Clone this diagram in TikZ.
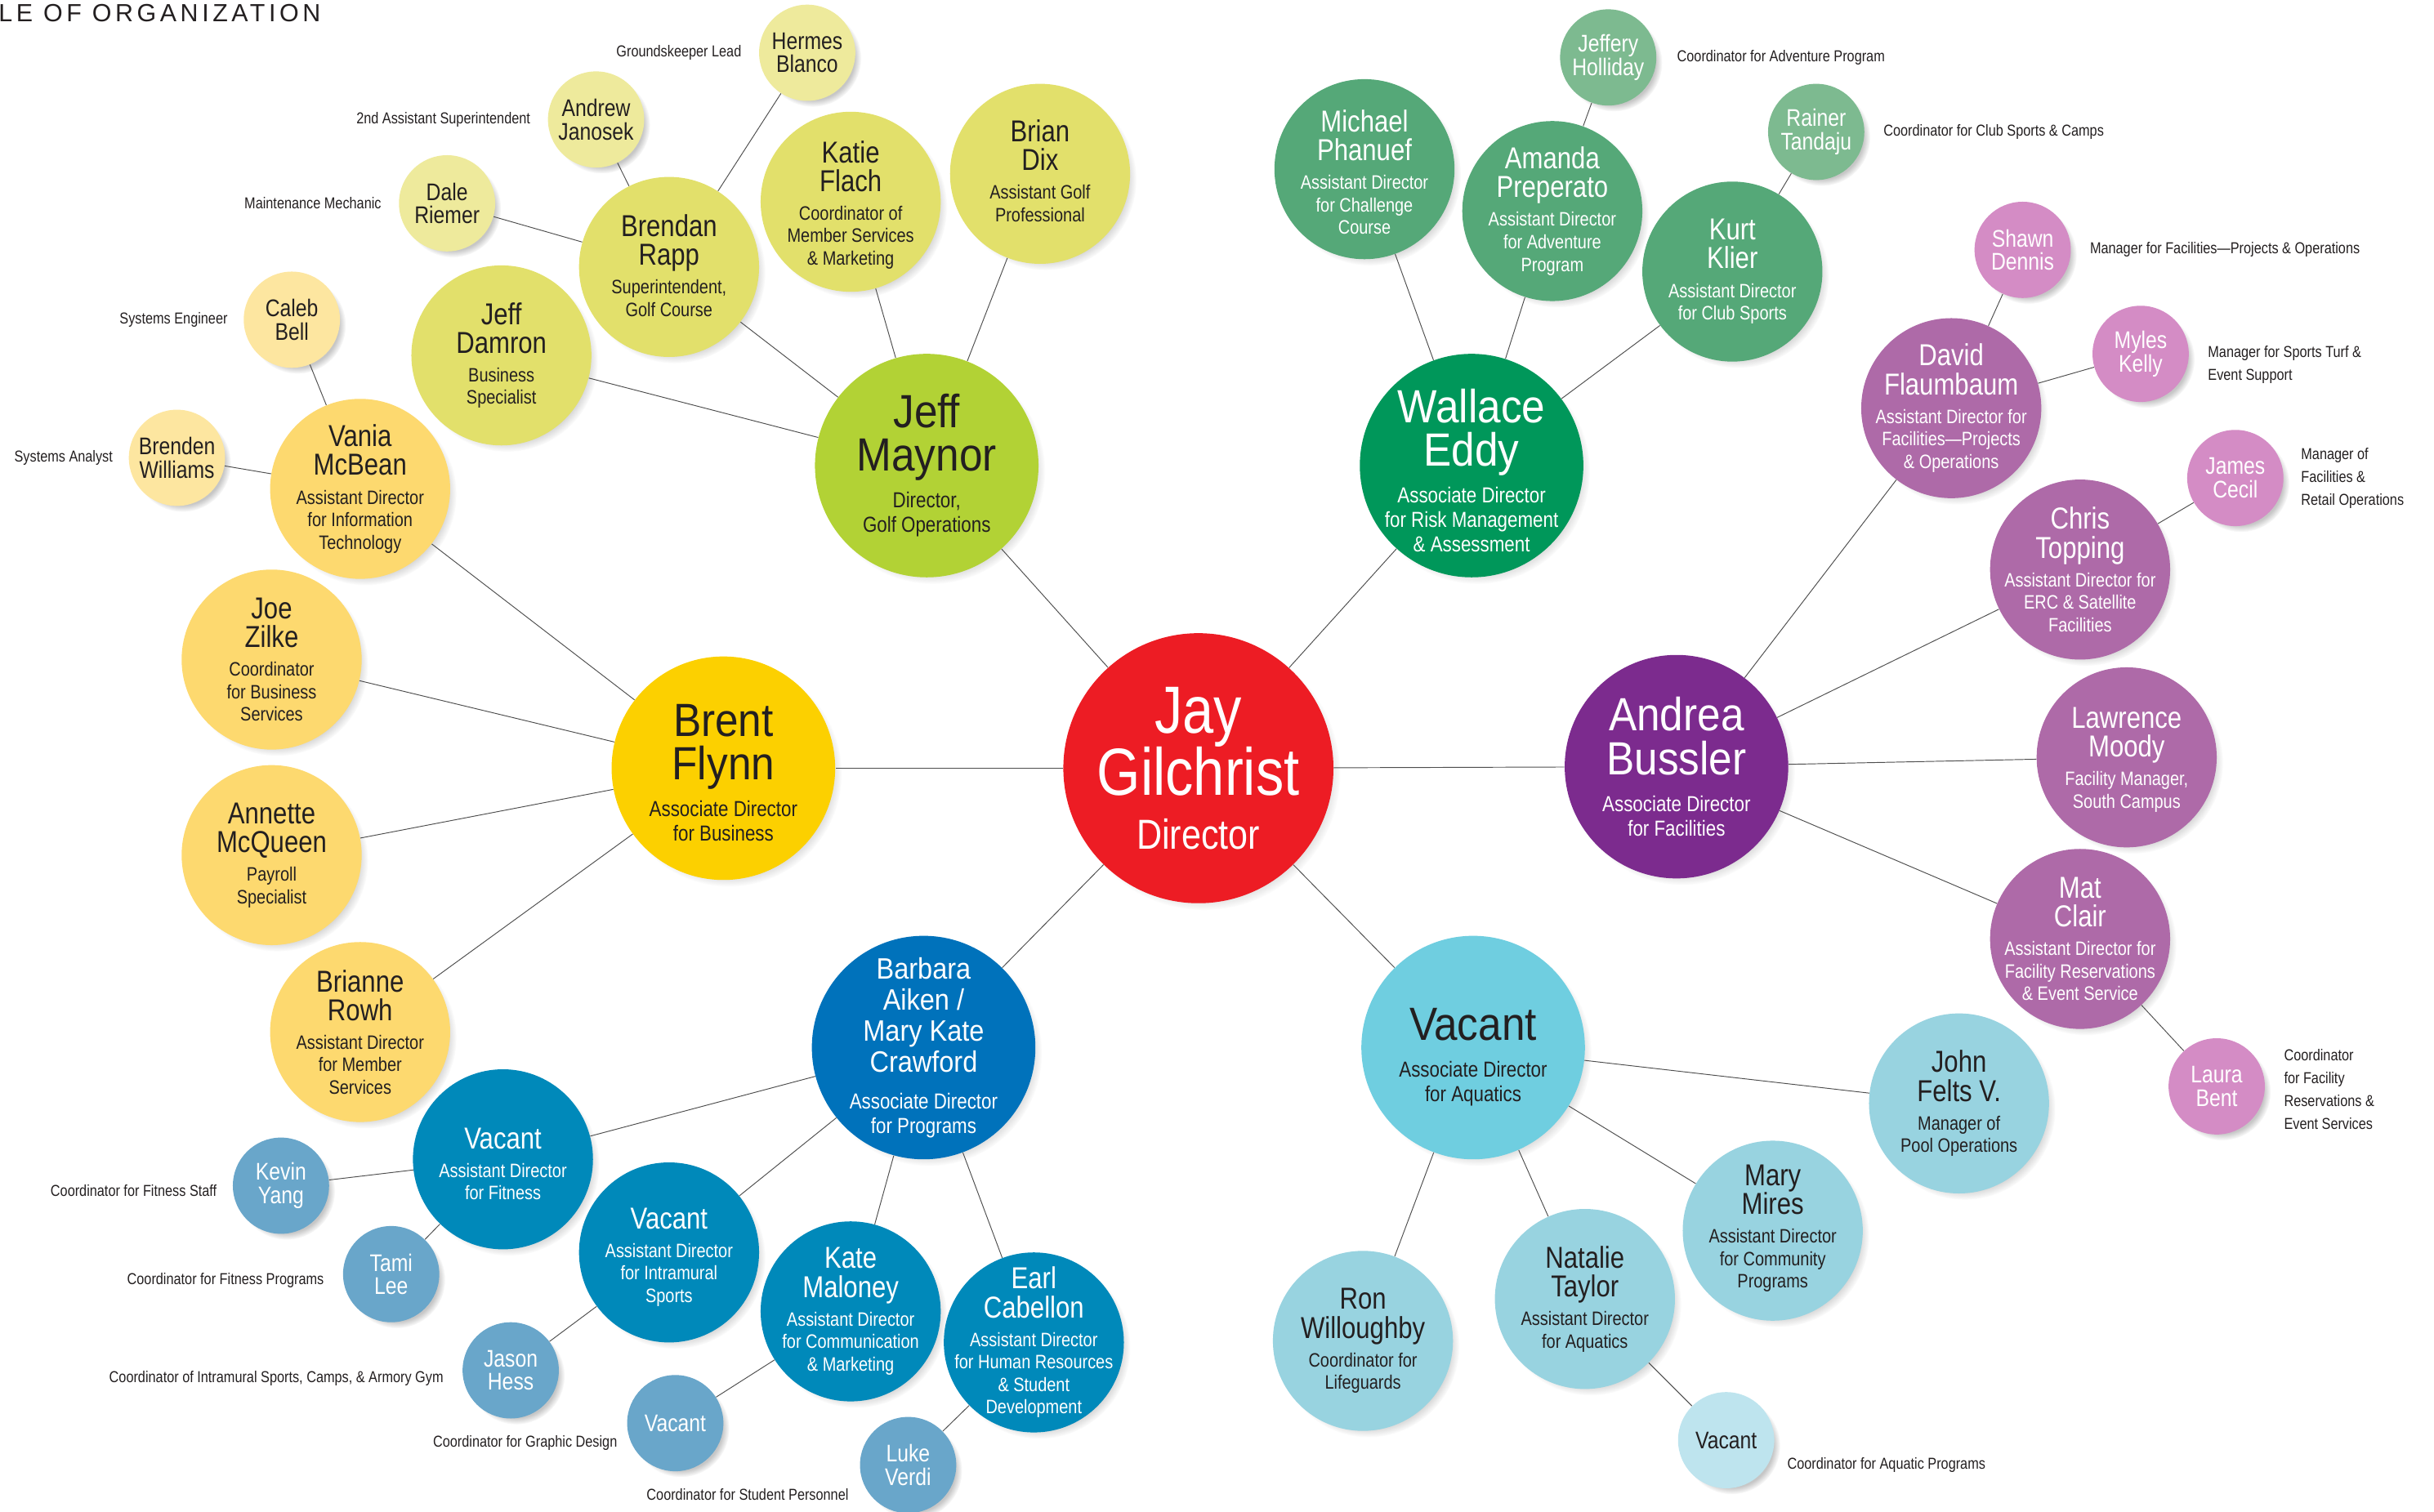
\documentclass[tikz,border=0pt]{standalone}
\usepackage{fontspec}
\setmainfont[FakeStretch=0.84]{Liberation Sans}
\newfontfamily\namefont[FakeStretch=0.9]{Liberation Sans}
\newfontfamily\headfont[LetterSpace=15]{Liberation Sans}
\usetikzlibrary{shadows, positioning}

% colours
\definecolor{ink}{HTML}{231F20}
\definecolor{wire}{HTML}{4D4D4D}
\definecolor{jayred}{HTML}{ED1C24}
\definecolor{busyellow}{HTML}{FCD000}
\definecolor{busmid}{HTML}{FDD96F}
\definecolor{buspale}{HTML}{FDE6A0}
\definecolor{golflime}{HTML}{B2D235}
\definecolor{golfmid}{HTML}{E2E06B}
\definecolor{golfpale}{HTML}{EEEA9C}
\definecolor{riskgreen}{HTML}{00975A}
\definecolor{riskmid}{HTML}{55A878}
\definecolor{riskpale}{HTML}{7DBA90}
\definecolor{facpurple}{HTML}{7C2B8E}
\definecolor{facmid}{HTML}{AE6AA8}
\definecolor{facpale}{HTML}{D48CC5}
\definecolor{aqblue}{HTML}{6FCEE0}
\definecolor{aqmid}{HTML}{98D3E0}
\definecolor{aqpale}{HTML}{BEE4EE}
\definecolor{progblue}{HTML}{0072BB}
\definecolor{progmid}{HTML}{0089BA}
\definecolor{progpale}{HTML}{69A6CA}

% text inside the circles (optional arg raises the block)
\newcommand{\inside}[3]{\makebox[0pt]{\raisebox{\dimexpr#1-2.5pt\relax}[0pt][0pt]{\parbox{#2}{\centering\lineskiplimit=-100pt #3\par}}}}
\newcommand{\cardA}[3][0pt]{\inside{#1}{170pt}{\fontsize{43}{40}\selectfont #2\par\vspace{7pt}\fontsize{27}{28}\selectfont #3}}
\newcommand{\cardB}[3][0pt]{\inside{#1}{160pt}{\namefont\fontsize{30}{28}\selectfont #2\par\vspace{7.9pt}\rmfamily\fontsize{14}{15.8}\selectfont #3}}
\newcommand{\cardC}[3][0pt]{\inside{#1}{130pt}{\fontsize{19.5}{18.5}\selectfont #2\par\vspace{4pt}\fontsize{12.5}{14.5}\selectfont #3}}
\newcommand{\cardD}[2][0pt]{\inside{#1}{70pt}{\fontsize{15.5}{15}\selectfont #2}}

\tikzset{
    person/.style={circle, inner sep=0pt, circular drop shadow={shadow xshift=3.5pt, shadow yshift=-3.5pt, shadow scale=1.01, opacity=0.45}},
    chief/.style={person, minimum size=174pt, fill=jayred, text=white},
    assoc/.style={person, minimum size=144pt},
    asst/.style={person, minimum size=116pt},
    staff/.style={person, minimum size=62pt},
    darktext/.style={text=ink},
    role/.style={font=\fontsize{10.2}{14.7}\selectfont, text=ink, inner sep=0pt, align=left},
    link/.style={draw=wire, line width=0.5pt},
}

\begin{document}
\begin{tikzpicture}[x=1pt, y=-1pt]
    \useasboundingbox (0,0) rectangle (1568,974);

    % Heading
    \node (title) at (-1,14) [anchor=base west, inner sep=0pt, text=ink, font=\headfont\fontsize{16}{16}\selectfont] {LE OF ORGANIZATION};

    % Director
    \node (jay) at (772,495) [chief] {\cardA{Jay\\Gilchrist}{Director}};

    % Associate directors
    \node (brent) at (466,495) [assoc, fill=busyellow, darktext] {\cardB[-3pt]{Brent\\Flynn}{Associate Director\\for Business}};
    \node (maynor) at (597,300) [assoc, fill=golflime, darktext] {\cardB{Jeff\\Maynor}{Director,\\Golf Operations}};
    \node (wallace) at (948,300) [assoc, fill=riskgreen, text=white] {\cardB[-3pt]{Wallace\\Eddy}{Associate Director\\for Risk Management\\\& Assessment}};
    \node (andrea) at (1080,494) [assoc, fill=facpurple, text=white] {\cardB{Andrea\\Bussler}{Associate Director\\for Facilities}};
    \node (aquatics) at (949,675) [assoc, fill=aqblue, darktext] {\cardB[-6pt]{Vacant}{Associate Director\\for Aquatics}};
    \node (barbara) at (595,675) [assoc, fill=progblue, text=white] {\cardB{\fontsize{19}{20}\selectfont Barbara\\Aiken /\\Mary Kate\\Crawford}{Associate Director\\for Programs}};

    % Business
    \node (vania) at (232,315) [asst, fill=busmid, darktext] {\cardC{Vania\\McBean}{Assistant Director\\for Information\\Technology}};
    \node (zilke) at (175,425) [asst, fill=busmid, darktext] {\cardC{Joe\\Zilke}{Coordinator\\for Business\\Services}};
    \node (mcqueen) at (175,551) [asst, fill=busmid, darktext] {\cardC{Annette\\McQueen}{Payroll\\Specialist}};
    \node (rowh) at (232,665) [asst, fill=busmid, darktext] {\cardC{Brianne\\Rowh}{Assistant Director\\for Member\\Services}};
    \node (bell) at (188,206) [staff, fill=buspale, darktext] {\cardD{Caleb\\Bell}};
    \node (williams) at (114,295) [staff, fill=buspale, darktext] {\cardD{Brenden\\Williams}};
    \node (bellrole) at (bell.west) [left=10pt, role] {Systems Engineer};
    \node (williamsrole) at (williams.west) [left=10pt, role] {Systems Analyst};

    % Golf operations
    \node (damron) at (323,229) [asst, fill=golfmid, darktext] {\cardC{Jeff\\Damron}{Business\\Specialist}};
    \node (rapp) at (431,172) [asst, fill=golfmid, darktext] {\cardC[1pt]{Brendan\\Rapp}{Superintendent,\\Golf Course}};
    \node (flach) at (548,130) [asst, fill=golfmid, darktext] {\cardC[-2pt]{Katie\\Flach}{Coordinator of\\Member Services\\\& Marketing}};
    \node (dix) at (670,112) [asst, fill=golfmid, darktext] {\cardC[2pt]{Brian\\Dix}{Assistant Golf\\Professional}};
    \node (riemer) at (288,131) [staff, fill=golfpale, darktext] {\cardD{Dale\\Riemer}};
    \node (janosek) at (384,77) [staff, fill=golfpale, darktext] {\cardD{Andrew\\Janosek}};
    \node (blanco) at (520,34) [staff, fill=golfpale, darktext] {\cardD{Hermes\\Blanco}};
    \node (riemerrole) at (riemer.west) [left=11pt, role] {Maintenance Mechanic};
    \node (janosekrole) at (janosek.west) [left=11pt, role] {2nd Assistant Superintendent};
    \node (blancorole) at (blanco.west) [left=11pt, role] {Groundskeeper Lead};

    % Risk management
    \node (phanuef) at (879,109) [asst, fill=riskmid, text=white] {\cardC[-2pt]{Michael\\Phanuef}{Assistant Director\\for Challenge\\Course}};
    \node (preperato) at (1000,136) [asst, fill=riskmid, text=white] {\cardC{Amanda\\Preperato}{Assistant Director\\for Adventure\\Program}};
    \node (klier) at (1116,175) [asst, fill=riskmid, text=white] {\cardC{Kurt\\Klier}{Assistant Director\\for Club Sports}};
    \node (holliday) at (1036,37) [staff, fill=riskpale, text=white] {\cardD{Jeffery\\Holliday}};
    \node (tandaju) at (1170,85) [staff, fill=riskpale, text=white] {\cardD{Rainer\\Tandaju}};
    \node (hollidayrole) at (holliday.east) [right=13pt, role] {Coordinator for Adventure Program};
    \node (tandajurole) at (tandaju.east) [right=12pt, role] {Coordinator for Club Sports \& Camps};

    % Facilities
    \node (flaumbaum) at (1257,263) [asst, fill=facmid, text=white] {\cardC{David\\Flaumbaum}{Assistant Director for\\Facilities—Projects\\\& Operations}};
    \node (topping) at (1340,367) [asst, fill=facmid, text=white] {\cardC{Chris\\Topping}{Assistant Director for\\ERC \& Satellite\\Facilities}};
    \node (moody) at (1370,488) [asst, fill=facmid, text=white] {\cardC[-1.5pt]{Lawrence\\Moody}{Facility Manager,\\South Campus}};
    \node (clair) at (1340,605) [asst, fill=facmid, text=white] {\cardC{Mat\\Clair}{Assistant Director for\\Facility Reservations\\\& Event Service}};
    \node (dennis) at (1303,161) [staff, fill=facpale, text=white] {\cardD{Shawn\\Dennis}};
    \node (kelly) at (1379,228) [staff, fill=facpale, text=white] {\cardD{Myles\\Kelly}};
    \node (cecil) at (1440,308) [staff, fill=facpale, text=white] {\cardD{James\\Cecil}};
    \node (bent) at (1428,700) [staff, fill=facpale, text=white] {\cardD{Laura\\Bent}};
    \node (dennisrole) at (dennis.east) [right=12pt, role] {Manager for Facilities—Projects \& Operations};
    \node (kellyrole) at (kelly.east) [right=12pt, yshift=-7pt, role] {Manager for Sports Turf \&\\Event Support};
    \node (cecilrole) at (cecil.east) [right=11pt, role] {Manager of\\Facilities \&\\Retail Operations};
    \node (bentrole) at (bent.east) [right=12pt, yshift=-2pt, role] {Coordinator\\for Facility\\Reservations \&\\Event Services};

    % Aquatics
    \node (felts) at (1262,711) [asst, fill=aqmid, darktext] {\cardC{John\\Felts V.}{Manager of\\Pool Operations}};
    \node (mires) at (1142,793) [asst, fill=aqmid, darktext] {\cardC[1.5pt]{Mary\\Mires}{Assistant Director\\for Community\\Programs}};
    \node (taylor) at (1021,837) [asst, fill=aqmid, darktext] {\cardC{Natalie\\Taylor}{Assistant Director\\for Aquatics}};
    \node (willoughby) at (878,864) [asst, fill=aqmid, darktext] {\cardC{Ron\\Willoughby}{Coordinator for\\Lifeguards}};
    \node (aqvacant) at (1112,928) [staff, fill=aqpale, darktext] {\cardD{Vacant}};
    \node (aqvacantrole) at (aqvacant.east) [right=8pt, yshift=-16pt, role] {Coordinator for Aquatic Programs};

    % Programs
    \node (fitness) at (324,747) [asst, fill=progmid, text=white] {\cardC[-3pt]{Vacant}{Assistant Director\\for Fitness}};
    \node (intramural) at (431,807) [asst, fill=progmid, text=white] {\cardC[-3pt]{Vacant}{Assistant Director\\for Intramural\\Sports}};
    \node (maloney) at (548,845) [asst, fill=progmid, text=white] {\cardC{Kate\\Maloney}{Assistant Director\\for Communication\\\& Marketing}};
    \node (cabellon) at (666,865) [asst, fill=progmid, text=white] {\cardC{Earl\\Cabellon}{Assistant Director\\for Human Resources\\\& Student\\Development}};
    \node (yang) at (181,764) [staff, fill=progpale, text=white] {\cardD{Kevin\\Yang}};
    \node (lee) at (252,821) [staff, fill=progpale, text=white] {\cardD{Tami\\Lee}};
    \node (hess) at (329,883) [staff, fill=progpale, text=white] {\cardD{Jason\\Hess}};
    \node (gdvacant) at (435,917) [staff, fill=progpale, text=white] {\cardD{Vacant}};
    \node (verdi) at (585,944) [staff, fill=progpale, text=white] {\cardD{Luke\\Verdi}};
    \node (yangrole) at (yang.west) [left=10pt, yshift=-3pt, role] {Coordinator for Fitness Staff};
    \node (leerole) at (lee.west) [left=12pt, yshift=-4pt, role] {Coordinator for Fitness Programs};
    \node (hessrole) at (hess.west) [left=12pt, yshift=-5pt, role] {Coordinator of Intramural Sports, Camps, \& Armory Gym};
    \node (gdvacantrole) at (gdvacant.west) [left=6pt, yshift=-13pt, role] {Coordinator for Graphic Design};
    \node (verdirole) at (verdi.west) [left=7pt, yshift=-19pt, role] {Coordinator for Student Personnel};

    % Connectors
    \draw[link] (jay) -- (brent);
    \draw[link] (jay) -- (maynor);
    \draw[link] (jay) -- (wallace);
    \draw[link] (jay) -- (andrea);
    \draw[link] (jay) -- (aquatics);
    \draw[link] (jay) -- (barbara);

    \draw[link] (brent) -- (vania);
    \draw[link] (brent) -- (zilke);
    \draw[link] (brent) -- (mcqueen);
    \draw[link] (brent) -- (rowh);
    \draw[link] (vania) -- (bell);
    \draw[link] (vania) -- (williams);

    \draw[link] (maynor) -- (damron);
    \draw[link] (maynor) -- (rapp);
    \draw[link] (maynor) -- (flach);
    \draw[link] (maynor) -- (dix);
    \draw[link] (rapp) -- (riemer);
    \draw[link] (rapp) -- (janosek);
    \draw[link] (rapp) -- (blanco);

    \draw[link] (wallace) -- (phanuef);
    \draw[link] (wallace) -- (preperato);
    \draw[link] (wallace) -- (klier);
    \draw[link] (preperato) -- (holliday);
    \draw[link] (klier) -- (tandaju);

    \draw[link] (andrea) -- (flaumbaum);
    \draw[link] (andrea) -- (topping);
    \draw[link] (andrea) -- (moody);
    \draw[link] (andrea) -- (clair);
    \draw[link] (flaumbaum) -- (dennis);
    \draw[link] (flaumbaum) -- (kelly);
    \draw[link] (topping) -- (cecil);
    \draw[link] (clair) -- (bent);

    \draw[link] (aquatics) -- (felts);
    \draw[link] (aquatics) -- (mires);
    \draw[link] (aquatics) -- (taylor);
    \draw[link] (aquatics) -- (willoughby);
    \draw[link] (taylor) -- (aqvacant);

    \draw[link] (barbara) -- (fitness);
    \draw[link] (barbara) -- (intramural);
    \draw[link] (barbara) -- (maloney);
    \draw[link] (barbara) -- (cabellon);
    \draw[link] (fitness) -- (yang);
    \draw[link] (fitness) -- (lee);
    \draw[link] (intramural) -- (hess);
    \draw[link] (maloney) -- (gdvacant);
    \draw[link] (cabellon) -- (verdi);
\end{tikzpicture}
\end{document}
